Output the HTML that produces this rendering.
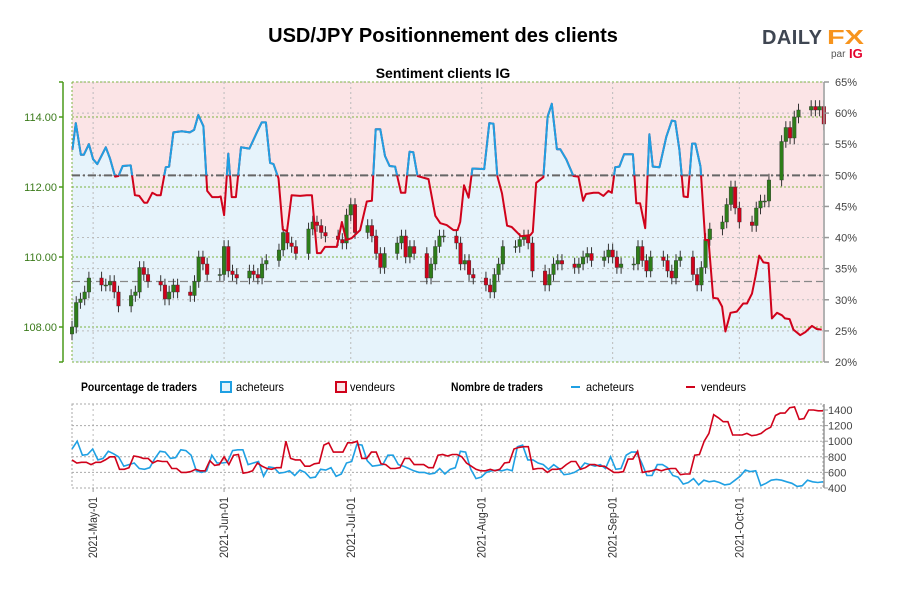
<!DOCTYPE html>
<html><head><meta charset="utf-8">
<style>
body{margin:0;background:#fff;}
svg{display:block;font-family:"Liberation Sans",sans-serif;}
</style></head>
<body>
<svg id="c" width="900" height="600" viewBox="0 0 900 600" xmlns="http://www.w3.org/2000/svg">
<text x="443" y="42" text-anchor="middle" font-size="20" font-weight="bold" fill="#000">USD/JPY Positionnement des clients</text>
<text x="443" y="78" text-anchor="middle" font-size="14" font-weight="bold" fill="#000">Sentiment clients IG</text>
<g>
<text x="762" y="44" font-size="20" font-weight="bold" fill="#3f4652" textLength="60" lengthAdjust="spacing">DAILY</text>
<text x="827" y="44" font-size="20" font-weight="bold" fill="#f7941d" textLength="37" lengthAdjust="spacingAndGlyphs">FX</text>
<text x="831" y="57" font-size="10" fill="#555">par</text>
<text x="849" y="58" font-size="13" font-weight="bold" fill="#e4002b">IG</text>
</g>
<g id="legend" font-size="12">
<text x="81" y="391" font-weight="bold" textLength="116" lengthAdjust="spacingAndGlyphs">Pourcentage de traders</text>
<rect x="221" y="382" width="10" height="10" fill="#e6f3fb" stroke="#1fa0e3" stroke-width="2"/>
<text x="236" y="391" textLength="48" lengthAdjust="spacingAndGlyphs">acheteurs</text>
<rect x="336" y="382" width="10" height="10" fill="#fbe4e6" stroke="#d0021b" stroke-width="2"/>
<text x="350" y="391" textLength="45" lengthAdjust="spacingAndGlyphs">vendeurs</text>
<text x="451" y="391" font-weight="bold" textLength="92" lengthAdjust="spacingAndGlyphs">Nombre de traders</text>
<line x1="571" y1="387" x2="580" y2="387" stroke="#1fa0e3" stroke-width="2"/>
<text x="586" y="391" textLength="48" lengthAdjust="spacingAndGlyphs">acheteurs</text>
<line x1="686" y1="387" x2="695" y2="387" stroke="#d0021b" stroke-width="2"/>
<text x="701" y="391" textLength="45" lengthAdjust="spacingAndGlyphs">vendeurs</text>
</g>
<g id="main"></g>
<g id="sub"></g>
</svg>
<script>
// ---- data ----
const dateLabels=["2021-May-01","2021-Jun-01","2021-Jul-01","2021-Aug-01","2021-Sep-01","2021-Oct-01"];
const dateDays=[5,36,66,97,128,158]; // days since 2021-04-26
const priceTicks=[108,110,112,114];
const pctTicks=[20,25,30,35,40,45,50,55,60,65];
const countTicks=[400,600,800,1000,1200,1400];
const longDays=[0.1,0.9,2.1,2.8,4.0,5.0,6.0,8.0,9.0,10.2,11.0,12.0,13.9,14.9,15.9,17.1,17.8,19.0,20.1,21.0,22.2,23.0,24.0,26.0,27.9,28.9,29.9,31.1,32.0,33.2,34.7,35.2,36.0,37.0,37.8,38.8,40.0,42.0,43.7,44.9,45.9,46.9,47.7,48.9,49.9,50.9,52.0,54.0,55.6,56.8,58.0,58.9,59.9,62.7,63.9,64.9,66.2,68.2,69.8,71.0,71.9,73.0,74.1,75.2,76.5,77.9,78.9,79.9,80.8,81.8,84.4,86.0,87.2,88.7,90.3,91.3,91.9,92.8,93.9,94.8,97.6,98.8,99.8,100.7,101.8,103.0,104.1,106.3,108.5,109.1,109.9,111.6,112.6,113.6,114.8,115.6,117.0,118.7,119.9,121.0,121.7,123.5,124.7,125.8,127.0,127.8,128.6,129.6,130.7,132.8,133.6,134.5,135.7,136.7,137.5,139.1,140.7,142.0,142.8,143.8,144.8,145.8,146.8,147.6,148.8,149.9,150.7,151.8,152.9,153.9,154.7,155.9,157.4,158.9,159.8,161.0,161.8,162.7,163.7,164.9,165.7,166.9,168.1,168.8,169.9,170.8,172.4,173.6,175.2,176.3,177.5];
const longPct=[54.1,58.4,53.3,53.3,55.0,52.6,51.8,54.5,52.7,49.8,49.9,51.5,51.6,46.8,46.7,45.6,45.6,47.2,46.8,46.8,51.3,51.4,56.9,57.1,56.9,57.3,59.7,57.9,47.5,46.5,46.5,46.6,43.6,53.5,46.5,46.5,54.5,54.3,56.8,58.5,58.5,52.0,51.8,49.5,41.3,41.0,46.8,46.7,46.8,46.8,37.5,37.5,38.5,38.5,42.5,39.6,39.9,41.2,45.8,45.9,57.4,57.4,53.1,51.5,51.4,47.2,47.2,53.8,53.7,49.9,49.4,43.5,42.3,42.0,41.2,41.2,42.5,48.4,46.4,51.1,51.0,58.4,58.3,49.9,47.1,41.9,41.7,40.2,40.4,40.9,48.8,49.7,59.4,61.5,54.2,54.2,52.6,49.9,49.8,45.9,47.0,47.2,47.2,46.7,47.5,47.2,51.3,51.4,53.4,53.4,45.5,45.5,41.5,56.6,51.4,51.3,56.2,58.8,58.7,54.1,46.6,46.5,55.1,55.1,51.4,39.6,39.6,30.3,30.2,28.9,24.9,27.9,28.1,29.4,29.4,31.0,33.7,37.1,36.0,35.9,27.0,27.9,27.5,27.0,26.9,25.2,24.3,24.8,25.8,25.3,25.2];
const closes=[108.0,108.7,108.8,109.0,109.4, 109.2,109.2,109.3,109.0,108.6, 108.9,109.0,109.7,109.5,109.3, 109.2,108.8,109.0,109.2,109.0, 108.9,109.3,110.0,109.8,109.5, 109.5,110.3,109.6,109.5,109.4, 109.6,109.5,109.4,109.8,109.9, 110.2,110.7,110.4,110.3,110.1, 110.8,111.0,110.9,110.7,110.6, 110.5,110.4,111.2,111.5,110.7, 110.9,110.6,110.1,109.7,110.1, 110.4,110.6,110.0,110.3,110.1, 109.4,109.8,110.3,110.6,110.6, 110.4,109.8,109.9,109.5,109.4, 109.2,109.0,109.5,109.8,110.3, 110.3,110.5,110.6,110.4,109.6, 109.2,109.5,109.8,109.9,109.8, 109.7,109.8,110.0,110.1,109.9, 110.0,110.2,110.0,109.7,109.8, 109.8,110.3,109.9,109.6,110.0, 109.9,109.6,109.4,109.9,110.0, 109.5,109.2,109.7,110.5,110.8, 111.0,111.5,112.0,111.4,111.0, 110.9,111.4,111.6,111.6,112.2, 113.3,113.7,113.4,114.0,114.2, 114.3,114.2,114.3,113.8];
const firstOpen=107.8;
const longCount=[900,1000,820,830,900,760,780,870,840,800,680,700,720,650,640,660,780,870,860,780,790,890,880,820,620,600,620,820,720,720,730,880,890,890,700,720,740,550,670,660,590,600,620,560,630,600,530,540,640,630,660,550,580,720,740,960,950,750,680,690,700,820,820,700,680,650,620,600,600,580,590,650,580,640,660,870,860,640,520,540,600,620,630,620,640,620,930,950,760,760,720,700,640,700,650,570,580,600,640,720,700,680,700,650,800,640,650,820,860,860,720,560,560,700,700,660,560,540,450,470,520,440,500,480,490,470,440,450,500,550,630,610,620,430,460,500,510,500,480,460,420,430,500,480,470,480];
const shortCount=[760,720,730,730,700,730,730,760,800,800,640,640,660,810,800,780,780,720,750,740,740,650,650,600,600,610,640,620,620,750,690,700,800,700,820,830,590,600,620,720,680,650,640,660,660,1000,780,760,760,680,680,710,720,950,980,860,860,860,980,980,1000,780,780,860,860,710,700,650,650,660,780,780,700,700,700,660,660,820,830,810,830,830,800,720,680,640,620,620,640,620,640,720,730,900,920,930,930,640,650,650,600,640,640,650,700,740,740,640,660,700,700,680,680,640,600,600,610,770,770,870,600,610,620,640,620,640,650,650,570,580,580,820,830,1000,1100,1340,1300,1250,1250,1080,1080,1080,1100,1070,1080,1100,1150,1180,1330,1360,1360,1430,1440,1280,1290,1400,1400,1390,1390];

// ---- geometry ----
const X0=72,X1=823,DAYS=177.8;
const xs=d=>X0+(d/DAYS)*(X1-X0);
const yPct=p=>82+(65-p)*(280/45);
const yPrice=v=>82+(115-v)*35;
const SY0=404,SY1=488;
const yCnt=v=>488-(v-400)*0.078;
const NS="http://www.w3.org/2000/svg";
function mk(tag,attrs,parent){const e=document.createElementNS(NS,tag);for(const k in attrs)e.setAttribute(k,attrs[k]);parent.appendChild(e);return e;}
const main=document.getElementById('main'),sub=document.getElementById('sub');

let bg=mk('rect',{x:X0,y:82,width:X1-X0,height:280,fill:'#fbe4e6'},main);


let pts=longDays.map((d,i)=>xs(d).toFixed(1)+','+yPct(longPct[i]).toFixed(1));
let area=mk('polygon',{points:xs(longDays[0])+',362 '+pts.join(' ')+' '+xs(longDays[longDays.length-1])+',362',fill:'#e6f3fb'},main);


pctTicks.forEach(p=>{const l=mk('line',{x1:X0,x2:X1,y1:yPct(p),y2:yPct(p),stroke:'#bbb','stroke-dasharray':'2,3','stroke-width':1},main);

});
[107,108,110,112,114,115].forEach(v=>{const l=mk('line',{x1:X0,x2:X1,y1:yPrice(v),y2:yPrice(v),stroke:'#7cb342','stroke-dasharray':'2,2','stroke-width':1},main);

});
dateDays.forEach(d=>{const l=mk('line',{x1:xs(d),x2:xs(d),y1:82,y2:362,stroke:'#bbb','stroke-dasharray':'2,3'},main);


const l2=mk('line',{x1:xs(d),x2:xs(d),y1:SY0,y2:SY1,stroke:'#bbb','stroke-dasharray':'2,3'},sub);

});
mk('line',{x1:X0,x2:X0,y1:82,y2:362,stroke:'#7cb342','stroke-dasharray':'2,2'},main);
let r50=mk('line',{x1:X0,x2:X1,y1:yPct(50),y2:yPct(50),stroke:'#666','stroke-width':2,'stroke-dasharray':'8,3,2,3'},main);


let avg=mk('line',{x1:X0,x2:X1,y1:yPrice(109.3),y2:yPrice(109.3),stroke:'#888','stroke-width':1.2,'stroke-dasharray':'8,4'},main);


let prev=firstOpen;
closes.forEach((c,i)=>{const wk=Math.floor(i/5),dd=i%5,day=wk*7+dd;const o=prev;prev=c;
const x=xs(day),up=c>=o,col=up?'#2e7d1a':'#d0021b';
const hi=Math.max(o,c)+0.18,lo=Math.min(o,c)-0.18;
const g=mk('g',{},main);


mk('line',{x1:x,x2:x,y1:yPrice(hi),y2:yPrice(lo),stroke:'#333','stroke-width':1},g);
const t=yPrice(Math.max(o,c)),b=yPrice(Math.min(o,c));
mk('rect',{x:x-1.8,y:t,width:3.6,height:Math.max(1,b-t),fill:col,stroke:'#333','stroke-width':0.4},g);});
const defs=mk('defs',{},main);
const cp=mk('clipPath',{id:'above'},defs);
mk('rect',{x:X0,y:82,width:X1-X0,height:yPct(50)-82},cp);
let lr=mk('polyline',{points:pts.join(' '),fill:'none',stroke:'#d0021b','stroke-width':2,'stroke-linejoin':'round'},main);


let lb=mk('polyline',{points:pts.join(' '),fill:'none',stroke:'#1fa0e3','stroke-width':2,'stroke-linejoin':'round','clip-path':'url(#above)'},main);


mk('line',{x1:63,x2:63,y1:82,y2:362,stroke:'#4a9a1a','stroke-width':1.5},main);
mk('line',{x1:59,x2:63,y1:82,y2:82,stroke:'#4a9a1a','stroke-width':1.5},main);
mk('line',{x1:59,x2:63,y1:362,y2:362,stroke:'#4a9a1a','stroke-width':1.5},main);
priceTicks.forEach(v=>{mk('line',{x1:59,x2:63,y1:yPrice(v),y2:yPrice(v),stroke:'#4a9a1a','stroke-width':1.5},main);
const t=mk('text',{x:57,y:yPrice(v)+4,'text-anchor':'end','font-size':11,fill:'#3a7a1a'},main);t.textContent=v.toFixed(2);

});
mk('line',{x1:X1+1,x2:X1+1,y1:82,y2:362,stroke:'#999','stroke-width':1.5},main);
pctTicks.forEach(p=>{mk('line',{x1:X1+1,x2:X1+6,y1:yPct(p),y2:yPct(p),stroke:'#999','stroke-width':1.5},main);
const t=mk('text',{x:X1+12,y:yPct(p)+4,'font-size':11,fill:'#444'},main);t.textContent=p+'%';

});

let sb=mk('rect',{x:X0,y:SY0,width:X1-X0,height:SY1-SY0,fill:'none',stroke:'#aaa','stroke-dasharray':'2,2'},sub);


countTicks.forEach(v=>{if(v>400&&v<1400){const l=mk('line',{x1:X0,x2:X1,y1:yCnt(v),y2:yCnt(v),stroke:'#aaa','stroke-dasharray':'2,2'},sub);

}
mk('line',{x1:X1+1,x2:X1+5,y1:yCnt(v),y2:yCnt(v),stroke:'#999'},sub);
const t=mk('text',{x:X1+5,y:yCnt(v)+4,'font-size':11,fill:'#444'},sub);t.textContent=v;

});
mk('line',{x1:X1+1,x2:X1+1,y1:SY0,y2:SY1,stroke:'#999','stroke-width':1.5},sub);
function series(arr,col,name){const p=arr.map((v,i)=>xs(i*DAYS/(arr.length-1)).toFixed(1)+','+yCnt(v).toFixed(1)).join(' ');
const l=mk('polyline',{points:p,fill:'none',stroke:col,'stroke-width':1.6},sub);

}
series(longCount,'#1fa0e3','buyers-count-line');
series(shortCount,'#d0021b','sellers-count-line');
dateLabels.forEach((s,i)=>{const x=xs(dateDays[i]);mk('line',{x1:x,x2:x,y1:SY1,y2:SY1+4,stroke:'#999'},sub);
const t=mk('text',{x:0,y:0,'text-anchor':'end','font-size':12,fill:'#333',textLength:61,lengthAdjust:'spacingAndGlyphs',transform:'translate('+(x+4)+',497) rotate(-90)'},sub);t.textContent=s;

});
</script>
</body></html>
